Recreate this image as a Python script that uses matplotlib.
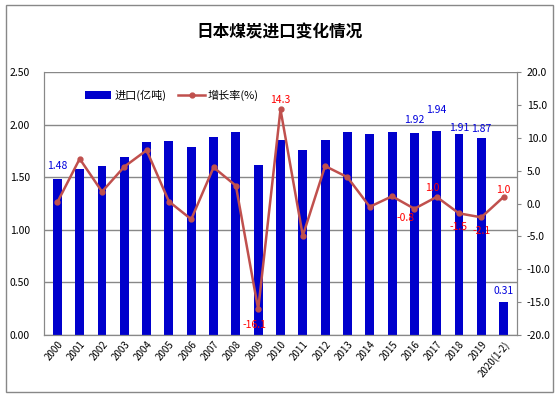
import numpy as np
import matplotlib.pyplot as plt
from matplotlib.patches import Rectangle

plt.rcParams['font.family'] = ['Noto Sans CJK SC', 'DejaVu Sans']

years = ['2000', '2001', '2002', '2003', '2004', '2005', '2006', '2007', '2008', '2009',
         '2010', '2011', '2012', '2013', '2014', '2015', '2016', '2017', '2018', '2019',
         '2020(1-2)']
imports = [1.48, 1.58, 1.61, 1.69, 1.83, 1.84, 1.79, 1.88, 1.93, 1.62,
           1.85, 1.76, 1.85, 1.93, 1.91, 1.93, 1.92, 1.94, 1.91, 1.87, 0.31]
growth = [0.2, 6.8, 1.8, 5.6, 8.1, 0.3, -2.4, 5.5, 2.7, -16.1,
          14.3, -4.9, 5.7, 4.0, -0.5, 1.1, -0.8, 1.0, -1.5, -2.1, 1.0]

# which points get value labels (offsets in points)
bar_lab = {0: (0, 9.5), 16: (0, 9.5), 17: (0, 15), 18: (0, 4.5), 19: (0, 7), 20: (0, 8)}
line_lab = {9: (-2.5, -11.5), 10: (0, 7), 16: (-6, -7), 17: (-3, 6.5), 18: (0, -10),
            19: (0, -10), 20: (0, 5)}

W, H = 560, 397
fig = plt.figure(figsize=(W / 100, H / 100), dpi=100)
fig.patches.append(Rectangle((6 / W, 5 / H), 547 / W, 387 / H, transform=fig.transFigure,
                             fill=False, edgecolor='#888888', lw=1))
fig.text(0.5, 1 - 32 / H, '日本煤炭进口变化情况', ha='center', va='center',
         fontsize=12, fontweight='bold')

ax = fig.add_axes([44 / W, 1 - 335 / H, (517 - 44) / W, (335 - 72) / H])
x = np.arange(len(years))
ax.bar(x, imports, width=0.4, color='#0000CC', label='进口(亿吨)', zorder=2)
ax.set_ylim(0, 2.5)
ax.set_xlim(-0.6, len(years) - 0.4)
ax.set_yticks(np.arange(0, 2.51, 0.5))
ax.set_yticklabels([f'{v:.2f}' for v in np.arange(0, 2.51, 0.5)], fontsize=7.5)
ax.yaxis.grid(True, color='#888888', lw=1)
ax.set_axisbelow(True)
ax.tick_params(axis='y', length=0, pad=10)
ax.set_xticks(x)
ax.set_xticklabels(years, rotation=50, ha='right', fontsize=7, rotation_mode='anchor')
ax.tick_params(axis='x', length=0, pad=3)
for s in ax.spines.values():
    s.set_color('#888888')
ax.spines['top'].set_visible(False)

for i, (dx, dy) in bar_lab.items():
    ax.annotate(f'{imports[i]:.2f}', (x[i], imports[i]), xytext=(dx, dy),
                textcoords='offset points', ha='center', va='center',
                color='#0000DD', fontsize=7.5)

ax2 = ax.twinx()
ax2.plot(x, growth, color='#C0504D', lw=1.8, marker='o', ms=3.5, label='增长率(%)', zorder=3)
ax2.set_ylim(-20, 20)
ax2.set_yticks(np.arange(-20, 20.1, 5))
ax2.set_yticklabels([f'{v:.1f}' for v in np.arange(-20, 20.1, 5)], fontsize=7.5)
ax2.tick_params(axis='y', length=3, color='#888888', pad=4)
for s in ax2.spines.values():
    s.set_color('#888888')
ax2.spines['top'].set_visible(False)

for i, (dx, dy) in line_lab.items():
    ax2.annotate(f'{growth[i]:.1f}', (x[i], growth[i]), xytext=(dx, dy),
                 textcoords='offset points', ha='center', va='center',
                 color='#FF0000', fontsize=7.5)

h1, l1 = ax.get_legend_handles_labels()
h2, l2 = ax2.get_legend_handles_labels()
ax.legend(h1 + h2, l1 + l2, loc='upper left', bbox_to_anchor=(0.065, 0.97), ncol=2,
          frameon=False, fontsize=8, handlelength=2.4, handletextpad=0.25, columnspacing=1.1)

fig.savefig('out.png', dpi=100)
